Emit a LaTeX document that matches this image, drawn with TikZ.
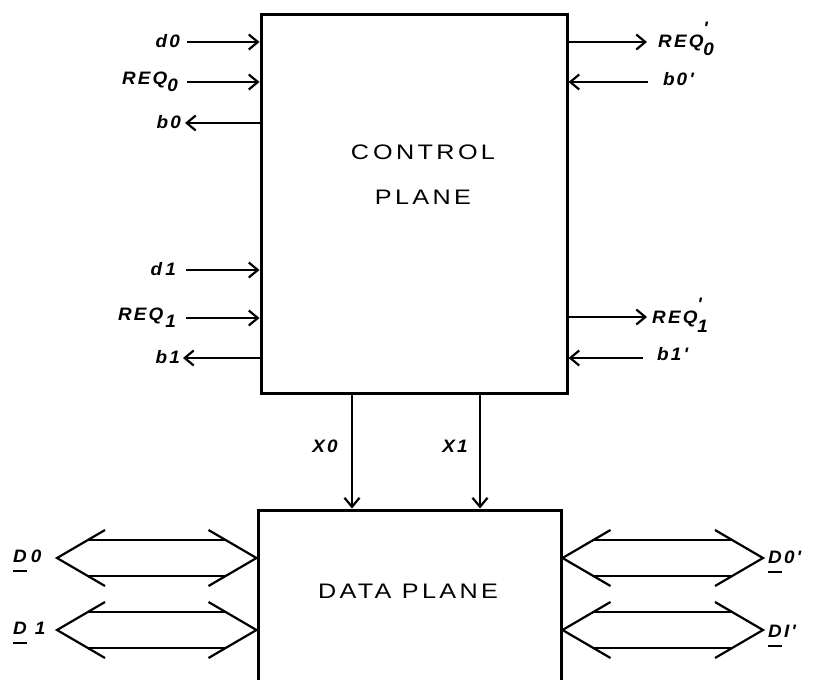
\documentclass[tikz,border=0pt]{standalone}
\usepackage{fontspec}
\setmainfont{Liberation Sans}
\newfontfamily\labfont[FakeStretch=1.05,LetterSpace=12]{Liberation Sans}
\newfontfamily\planefont[FakeStretch=1.2,LetterSpace=16]{Liberation Sans}
\usetikzlibrary{arrows.meta,calc,positioning}

\tikzset{
  box/.style={draw, line width=3pt, inner sep=0pt},
  sig/.style={line width=2.2pt, -{Straight Barb[length=9pt,width=15pt]}},
  bus/.style={line width=2.2pt},
  lab/.style={font=\labfont\fontsize{18}{18}\selectfont\bfseries\itshape, inner sep=0pt},
  plane/.style={font=\planefont\fontsize{21}{25}\selectfont, align=center, inner sep=0pt},
}

% subscript, alone or with a prime over it
\newcommand{\lsub}[1]{\raisebox{-7pt}{#1}}
\newcommand{\lsubp}[1]{\rlap{\raisebox{13pt}{'}}\raisebox{-9pt}{#1}}
% short bar under a letter
\newcommand{\dul}[1]{\setbox0\hbox{#1}\rlap{\raisebox{-10pt}{\rule{\wd0}{1.8pt}}}#1}

% hollow two-way bus arrow between two points on one row
\newcommand{\busarrow}[2]{%
  \draw[bus] ($(#1)+(48,-28)$) -- (#1) -- ($(#1)+(48,28)$);
  \draw[bus] ($(#2)+(-48,-28)$) -- (#2) -- ($(#2)+(-48,28)$);
  \draw[bus] ($(#1)+(31,-18)$) -- ($(#2)+(-31,-18)$);
  \draw[bus] ($(#1)+(31,18)$) -- ($(#2)+(-31,18)$);}

\begin{document}
\begin{tikzpicture}[x=1pt,y=-1pt]
  \useasboundingbox (0,0) rectangle (815,680);

  % control plane
  \node[box, minimum width=306pt, minimum height=379pt] (ctrl) at (414,203.5) {};
  \node[plane] (ctrltxt) at (423,175) {C\kern4pt ONTROL\\[20pt]PLANE};

  % left side signals
  \coordinate (d0s) at (187,42);
  \coordinate (req0s) at (187,82);
  \coordinate (b0s) at (185,123);
  \coordinate (d1s) at (186,270);
  \coordinate (req1s) at (186,318);
  \coordinate (b1s) at (183,358);
  \draw[sig] (d0s) -- (d0s -| ctrl.west);
  \draw[sig] (req0s) -- (req0s -| ctrl.west);
  \draw[sig] (b0s -| ctrl.west) -- (b0s);
  \draw[sig] (d1s) -- (d1s -| ctrl.west);
  \draw[sig] (req1s) -- (req1s -| ctrl.west);
  \draw[sig] (b1s -| ctrl.west) -- (b1s);

  \node[lab, anchor=base east] (d0) at (180,47) {d0};
  \node[lab, anchor=base east] (req0) at (178,84) {REQ\lsub{0}};
  \node[lab, anchor=base east] (b0) at (181,128) {b0};
  \node[lab, anchor=base east] (d1) at (176,275) {d\kern3pt 1};
  \node[lab, anchor=base east] (req1) at (176,320) {REQ\kern2pt\lsub{1}};
  \node[lab, anchor=base east] (b1) at (180,363) {b\kern2pt 1};

  % right side signals
  \coordinate (req0e) at (647,42);
  \coordinate (b0e) at (648,82);
  \coordinate (req1e) at (647,317);
  \coordinate (b1e) at (643,358);
  \draw[sig] (req0e -| ctrl.east) -- (req0e);
  \draw[sig] (b0e) -- (b0e -| ctrl.east);
  \draw[sig] (req1e -| ctrl.east) -- (req1e);
  \draw[sig] (b1e) -- (b1e -| ctrl.east);

  \node[lab, anchor=base west] (req0p) at (658,47) {REQ\lsubp{0}};
  \node[lab, anchor=base west] (b0p) at (663,85) {b\kern2pt 0'};
  \node[lab, anchor=base west] (req1p) at (652,323) {REQ\lsubp{1}};
  \node[lab, anchor=base west] (b1p) at (657,360) {b1'};

  % data plane
  \node[box, minimum width=303pt, minimum height=200pt] (data) at (409.5,610) {};
  \node[plane] (datatxt) at (408,591) {DATA PLANE};

  % control lines between the planes
  \coordinate (x0) at (352,0);
  \coordinate (x1) at (480,0);
  \draw[sig] (x0 |- ctrl.south) -- (x0 |- data.north);
  \draw[sig] (x1 |- ctrl.south) -- (x1 |- data.north);
  \node[lab] (X0) at (325,446) {X0};
  \node[lab] (X1) at (455,446) {X1};

  % data buses
  \coordinate (D0l) at (57,558);
  \coordinate (D0r) at (data.west |- D0l);
  \coordinate (D1l) at (57,630);
  \coordinate (D1r) at (data.west |- D1l);
  \coordinate (D0pl) at (data.east |- D0l);
  \coordinate (D0pr) at (763,558);
  \coordinate (D1pl) at (data.east |- D1l);
  \coordinate (D1pr) at (763,630);
  \busarrow{D0l}{D0r}
  \busarrow{D1l}{D1r}
  \busarrow{D0pl}{D0pr}
  \busarrow{D1pl}{D1pr}

  \node[lab, anchor=base west] (D0) at (13,562) {\dul{D}\kern4pt 0};
  \node[lab, anchor=base west] (D1) at (13,634) {\dul{D}\kern8pt 1};
  \node[lab, anchor=base west] (D0p) at (768,563) {\dul{D}0'};
  \node[lab, anchor=base west] (D1p) at (768,637) {\dul{D}I'};
\end{tikzpicture}
\end{document}
